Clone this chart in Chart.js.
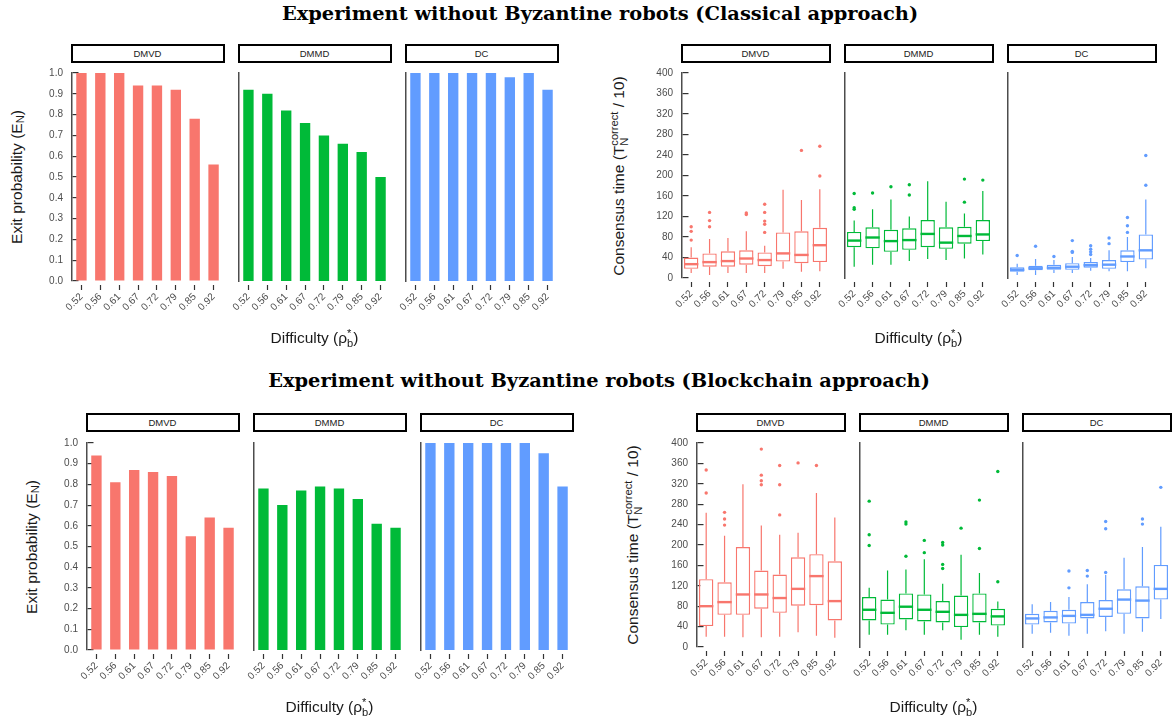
<!DOCTYPE html>
<html>
<head>
<meta charset="utf-8">
<script src="https://cdn.jsdelivr.net/npm/chart.js@4.4.1/dist/chart.umd.min.js"></script>
<style>
  body { margin: 0; width: 1172px; height: 723px; position: relative; overflow: hidden; background: #fff;
         font-family: "Liberation Sans", Arial, sans-serif; color: #1a1a1a; }
  .title { position: absolute; left: 0; width: 1172px; text-align: center; font-family: "DejaVu Serif", serif;
           font-weight: bold; font-size: 19.4px; line-height: 20px; color: #000; }
  .strip { position: absolute; box-sizing: border-box; height: 19px; border: 2px solid #000; background: #fff;
           font-size: 9.5px; line-height: 15px; text-align: center; color: #1a1a1a; }
  .ytitle { position: absolute; white-space: nowrap; font-size: 15.5px; transform: translate(-50%, -50%) rotate(-90deg); }
  .xtitle { position: absolute; white-space: nowrap; font-size: 15.5px; transform: translate(-50%, -50%); }
  .stk { display: inline-block; vertical-align: -0.4em; font-size: 0.72em; line-height: 0.9; text-align: left; }
  sub { font-size: 0.72em; vertical-align: -0.25em; }
</style>
</head>
<body>
<script>
const difficulty = ['0.52', '0.56', '0.61', '0.67', '0.72', '0.79', '0.85', '0.92'];
const facets = ['DMVD', 'DMMD', 'DC'];
const facetColors = ['#F8766D', '#00BA38', '#619CFF'];
const exitTicks = [0, 0.1, 0.2, 0.3, 0.4, 0.5, 0.6, 0.7, 0.8, 0.9, 1.0];
const timeTicks = [0, 40, 80, 120, 160, 200, 240, 280, 320, 360, 400];

// exit probability, classical approach
const exitClassicalDMVD = [1, 1, 1, 0.94, 0.94, 0.92, 0.78, 0.56];
const exitClassicalDMMD = [0.92, 0.90, 0.82, 0.76, 0.70, 0.66, 0.62, 0.50];
const exitClassicalDC = [1, 1, 1, 1, 1, 0.98, 1, 0.92];
// exit probability, blockchain approach
const exitBlockchainDMVD = [0.94, 0.81, 0.87, 0.86, 0.84, 0.55, 0.64, 0.59];
const exitBlockchainDMMD = [0.78, 0.70, 0.77, 0.79, 0.78, 0.73, 0.61, 0.59];
const exitBlockchainDC = [1, 1, 1, 1, 1, 1, 0.95, 0.79];

// consensus time boxes: [lower whisker, q1, median, q3, upper whisker]
const timeClassicalDMVD = [[10, 18, 27, 40, 60], [6, 22, 31, 48, 76], [10, 22, 33, 52, 78], [10, 26, 38, 54, 91],
  [10, 23, 35, 50, 63], [18, 32, 48, 89, 172], [12, 29, 45, 91, 152], [13, 31, 64, 98, 173]];
const outClassicalDMVD = [[74, 91, 100], [100, 112, 128], [], [124, 127], [89, 105, 111, 128, 144], [], [249], [199, 257]];
const timeClassicalDMMD = [[22, 60, 73, 90, 112], [26, 58, 79, 99, 134], [26, 51, 72, 94, 153], [33, 55, 74, 97, 120],
  [37, 60, 86, 113, 189], [35, 57, 69, 99, 149], [38, 67, 82, 100, 126], [46, 72, 85, 113, 170]];
const outClassicalDMMD = [[134, 137, 165], [166], [178], [162, 182], [], [], [148, 193], [191]];
const timeClassicalDC = [[6, 12, 16, 21, 28], [6, 15, 19, 24, 37], [10, 16, 20, 26, 35], [10, 16, 22, 29, 41],
  [14, 20, 25, 31, 39], [13, 18, 26, 35, 54], [13, 31, 42, 54, 80], [19, 36, 54, 85, 153]];
const outClassicalDC = [[44], [62], [42], [50, 52, 73], [46, 51, 56, 63], [67, 78], [89, 102, 118], [181, 239]];

const timeBlockchainDMVD = [[20, 41, 80, 133, 263], [20, 63, 88, 127, 218], [19, 63, 103, 196, 319], [19, 75, 103, 150, 238],
  [20, 67, 96, 142, 220], [29, 81, 114, 176, 224], [22, 82, 139, 182, 302], [18, 52, 90, 168, 254]];
const outBlockchainDMVD = [[302, 347], [239, 251, 264], [], [318, 326, 337, 388], [259, 318, 356], [361], [356], []];
const timeBlockchainDMMD = [[24, 52, 73, 98, 116], [24, 44, 67, 93, 150], [33, 54, 79, 105, 152], [24, 50, 73, 103, 172],
  [33, 48, 69, 90, 124], [14, 39, 63, 101, 181], [24, 48, 65, 105, 145], [20, 42, 60, 75, 89]];
const outBlockchainDMMD = [[199, 220, 286], [], [178, 241, 245], [185, 209], [154, 162, 200, 205], [233], [193, 288], [128, 344]];
const timeBlockchainDC = [[26, 44, 56, 65, 84], [28, 48, 58, 71, 88], [22, 46, 61, 73, 98], [26, 56, 63, 88, 123],
  [31, 59, 75, 92, 141], [26, 65, 93, 113, 175], [30, 56, 91, 119, 196], [55, 93, 114, 161, 236]];
const outBlockchainDC = [[], [], [116, 149], [139, 150], [146, 232, 246], [], [241, 251], [313]];

// canvas margins around each facet's plot area
const AX = 40, PT = 10, PR = 10, XH = 40;

Chart.defaults.font.family = "'Liberation Sans', Arial, sans-serif";

// whiskers and median line for the box plots
const boxWhiskers = {
  id: 'boxWhiskers',
  afterDatasetsDraw(chart, args, opts) {
    const ctx = chart.ctx;
    const x = chart.scales.x, y = chart.scales.y;
    const meta = chart.getDatasetMeta(0);
    ctx.save();
    ctx.strokeStyle = opts.color;
    opts.stats.forEach((s, i) => {
      const cx = x.getPixelForValue(i);
      const half = meta.data[i].width / 2;
      ctx.lineWidth = 1.2;
      ctx.beginPath();
      ctx.moveTo(cx, y.getPixelForValue(s[0]));
      ctx.lineTo(cx, y.getPixelForValue(s[1]));
      ctx.moveTo(cx, y.getPixelForValue(s[3]));
      ctx.lineTo(cx, y.getPixelForValue(s[4]));
      ctx.stroke();
      ctx.lineWidth = 2.4;
      ctx.beginPath();
      ctx.moveTo(cx - half, y.getPixelForValue(s[2]));
      ctx.lineTo(cx + half, y.getPixelForValue(s[2]));
      ctx.stroke();
    });
    ctx.restore();
  }
};

function addCanvas(left, top, plotW, plotH) {
  const c = document.createElement('canvas');
  const w = AX + plotW + PR, h = PT + plotH + XH;
  c.width = w;
  c.height = h;
  c.style.cssText = `position:absolute;left:${left - AX}px;top:${top - PT}px;width:${w}px;height:${h}px`;
  document.body.appendChild(c);
  return c;
}

function addText(cls, html, x, y) {
  const d = document.createElement('div');
  d.className = cls;
  d.innerHTML = html;
  d.style.left = x + 'px';
  d.style.top = y + 'px';
  document.body.appendChild(d);
  return d;
}

function baseOptions(showAxis, tickValues, fmt, extraPlugins) {
  return {
    responsive: false,
    animation: false,
    layout: { padding: { top: PT, right: PR, left: 0, bottom: 0 } },
    plugins: Object.assign({ legend: { display: false }, tooltip: { enabled: false } }, extraPlugins || {}),
    scales: {
      x: {
        offset: true,
        grid: { offset: false, drawOnChartArea: false, tickLength: 9, tickWidth: 1.2, tickColor: '#333',
                tickBorderDash: [5, 100], tickBorderDashOffset: 101 },
        border: { display: false },
        ticks: { autoSkip: false, minRotation: 45, maxRotation: 45, padding: 1, color: '#4d4d4d', font: { size: 10 } },
        afterFit: s => { s.height = XH; s.paddingLeft = 0; s.paddingRight = 0; }
      },
      y: {
        min: tickValues[0],
        max: tickValues[tickValues.length - 1],
        afterBuildTicks: s => { s.ticks = tickValues.map(v => ({ value: v })); },
        afterFit: s => { s.width = AX; s.paddingTop = 0; s.paddingBottom = 0; },
        ticks: { display: showAxis, padding: 9, color: '#4d4d4d', font: { size: 10 }, callback: v => fmt(v) },
        grid: showAxis ? { drawOnChartArea: true, drawTicks: false, color: '#333', lineWidth: 1.2 } : { display: false },
        border: { display: true, color: '#4d4d4d', width: 1.5, dash: [6, 3000] }
      }
    }
  };
}

function exitChart(canvas, values, color, showAxis) {
  return new Chart(canvas, {
    type: 'bar',
    data: {
      labels: difficulty,
      datasets: [{ data: values, backgroundColor: color, borderWidth: 0, barPercentage: 0.55, categoryPercentage: 1 }]
    },
    options: baseOptions(showAxis, exitTicks, v => v.toFixed(1))
  });
}

function timeChart(canvas, stats, outliers, color, showAxis) {
  const points = [];
  outliers.forEach((list, i) => list.forEach(v => points.push({ x: difficulty[i], y: v })));
  return new Chart(canvas, {
    type: 'bar',
    data: {
      labels: difficulty,
      datasets: [
        { data: stats.map(s => [s[1], s[3]]), backgroundColor: '#fff', borderColor: color, borderWidth: 1.4,
          borderSkipped: false, barPercentage: 0.78, categoryPercentage: 1 },
        { type: 'line', data: points, showLine: false, pointRadius: 1.7, pointBackgroundColor: color,
          pointBorderWidth: 0, pointHoverRadius: 0 }
      ]
    },
    options: baseOptions(showAxis, timeTicks, v => String(v), { boxWhiskers: { stats: stats, color: color } }),
    plugins: [boxWhiskers]
  });
}

function drawPanel(p) {
  const plotH = p.bottom - p.top;
  p.lefts.forEach((left, i) => {
    const strip = addText('strip', facets[i], left - 1.5, p.stripTop);
    strip.style.width = (p.plotW + 3) + 'px';
    const canvas = addCanvas(left, p.top, p.plotW, plotH);
    if (p.exit) exitChart(canvas, p.exit[i], facetColors[i], i === 0);
    else timeChart(canvas, p.time[i], p.out[i], facetColors[i], i === 0);
  });
  addText('ytitle', p.ytitle, p.ytitleX, (p.top + p.bottom) / 2);
  const xCenter = (p.lefts[0] + p.lefts[2] + p.plotW) / 2;
  addText('xtitle', 'Difficulty (ρ<span class="stk">*<br>b</span>)', xCenter, p.xtitleY);
}

const exitTitle = 'Exit probability (E<sub>N</sub>)';
const timeTitle = 'Consensus time (T<span class="stk">correct<br>N</span> / 10)';

addText('title', 'Experiment without Byzantine robots (Classical approach)', 14, 4);
addText('title', 'Experiment without Byzantine robots (Blockchain approach)', 13, 371);

drawPanel({ exit: [exitClassicalDMVD, exitClassicalDMMD, exitClassicalDC], lefts: [72, 239, 406], plotW: 151,
  top: 73, bottom: 281, stripTop: 44, ytitle: exitTitle, ytitleX: 17, xtitleY: 338 });
drawPanel({ time: [timeClassicalDMVD, timeClassicalDMMD, timeClassicalDC], out: [outClassicalDMVD, outClassicalDMMD, outClassicalDC],
  lefts: [682, 845, 1008], plotW: 147, top: 73, bottom: 278, stripTop: 44, ytitle: timeTitle, ytitleX: 619, xtitleY: 338 });
drawPanel({ exit: [exitBlockchainDMVD, exitBlockchainDMMD, exitBlockchainDC], lefts: [87, 254, 421], plotW: 151,
  top: 443, bottom: 650, stripTop: 413, ytitle: exitTitle, ytitleX: 32, xtitleY: 707 });
drawPanel({ time: [timeBlockchainDMVD, timeBlockchainDMMD, timeBlockchainDC], out: [outBlockchainDMVD, outBlockchainDMMD, outBlockchainDC],
  lefts: [697, 860, 1023], plotW: 147, top: 443, bottom: 647, stripTop: 413, ytitle: timeTitle, ytitleX: 633, xtitleY: 707 });
</script>
</body>
</html>
